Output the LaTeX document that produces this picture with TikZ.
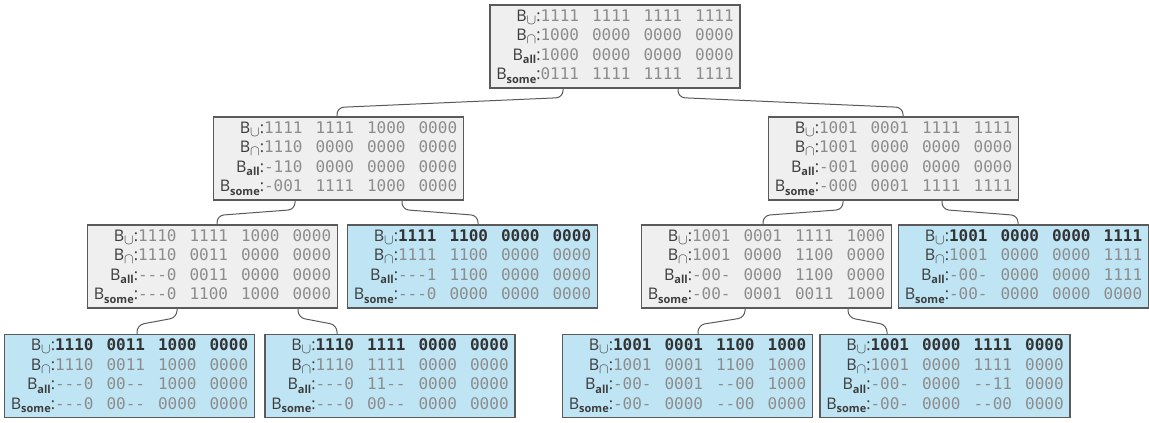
\documentclass[tikz,border=0pt]{standalone}
\usepackage{fontspec}
\setsansfont{Open Sans}
\setmonofont{DejaVu Sans Mono}
\usetikzlibrary{positioning}
\definecolor{boxline}{HTML}{5A5A5A}
\definecolor{grayfill}{HTML}{EFEFEF}
\definecolor{bluefill}{HTML}{BFE5F5}
\definecolor{bitgray}{HTML}{8C8C8C}
\definecolor{bitdark}{HTML}{333333}
\definecolor{lblgray}{HTML}{3C3C3C}

\newlength{\grpgap}\setlength{\grpgap}{13pt}
\newcommand{\bits}[4]{{\ttfamily\color{bitgray}#1\hspace{\grpgap}#2\hspace{\grpgap}#3\hspace{\grpgap}#4}}
\newcommand{\bbits}[4]{{\ttfamily\bfseries\color{bitdark}#1\hspace{\grpgap}#2\hspace{\grpgap}#3\hspace{\grpgap}#4}}
\newcommand{\lbl}[1]{{\sffamily\color{lblgray}B\raisebox{-3.5pt}{\fontsize{11}{11}\selectfont\bfseries #1}:}}
\newcommand{\lsym}[1]{{\sffamily\color{lblgray}B\raisebox{-3pt}{\fontsize{14}{14}\selectfont$#1$}:}}

\begin{document}
\begin{tikzpicture}[x=1pt,y=-1pt,
    graybox/.style={draw=boxline,fill=grayfill,line width=1.1pt,inner sep=0pt,
      minimum width=250pt,minimum height=83pt,font=\fontsize{16}{19.5}\selectfont},
    bluebox/.style={graybox,fill=bluefill},
    link/.style={draw=boxline,line width=1pt,rounded corners=7pt}]
  \useasboundingbox (0,0) rectangle (1149,423);

  % root
  \node[graybox] (root) at (615,46.5) {\begin{tabular}{@{}r@{}l@{}}
    \lsym{\cup} & \bits{1111}{1111}{1111}{1111}\\
    \lsym{\cap} & \bits{1000}{0000}{0000}{0000}\\
    \lbl{all}   & \bits{1000}{0000}{0000}{0000}\\
    \lbl{some}  & \bits{0111}{1111}{1111}{1111}
  \end{tabular}};

  % level 1
  \node[graybox] (l1a) at (338.5,158.5) {\begin{tabular}{@{}r@{}l@{}}
    \lsym{\cup} & \bits{1111}{1111}{1000}{0000}\\
    \lsym{\cap} & \bits{1110}{0000}{0000}{0000}\\
    \lbl{all}   & \bits{-110}{0000}{0000}{0000}\\
    \lbl{some}  & \bits{-001}{1111}{1000}{0000}
  \end{tabular}};
  \node[graybox] (l1b) at (893.5,158.5) {\begin{tabular}{@{}r@{}l@{}}
    \lsym{\cup} & \bits{1001}{0001}{1111}{1111}\\
    \lsym{\cap} & \bits{1001}{0000}{0000}{0000}\\
    \lbl{all}   & \bits{-001}{0000}{0000}{0000}\\
    \lbl{some}  & \bits{-000}{0001}{1111}{1111}
  \end{tabular}};

  % level 2
  \node[graybox] (l2a) at (212.5,266.5) {\begin{tabular}{@{}r@{}l@{}}
    \lsym{\cup} & \bits{1110}{1111}{1000}{0000}\\
    \lsym{\cap} & \bits{1110}{0011}{0000}{0000}\\
    \lbl{all}   & \bits{---0}{0011}{0000}{0000}\\
    \lbl{some}  & \bits{---0}{1100}{1000}{0000}
  \end{tabular}};
  \node[bluebox] (l2b) at (472.5,266.5) {\begin{tabular}{@{}r@{}l@{}}
    \lsym{\cup} & \bbits{1111}{1100}{0000}{0000}\\
    \lsym{\cap} & \bits{1111}{1100}{0000}{0000}\\
    \lbl{all}   & \bits{---1}{1100}{0000}{0000}\\
    \lbl{some}  & \bits{---0}{0000}{0000}{0000}
  \end{tabular}};
  \node[graybox] (l2c) at (766.5,266.5) {\begin{tabular}{@{}r@{}l@{}}
    \lsym{\cup} & \bits{1001}{0001}{1111}{1000}\\
    \lsym{\cap} & \bits{1001}{0000}{1100}{0000}\\
    \lbl{all}   & \bits{-00-}{0000}{1100}{0000}\\
    \lbl{some}  & \bits{-00-}{0001}{0011}{1000}
  \end{tabular}};
  \node[bluebox] (l2d) at (1023.5,266.5) {\begin{tabular}{@{}r@{}l@{}}
    \lsym{\cup} & \bbits{1001}{0000}{0000}{1111}\\
    \lsym{\cap} & \bits{1001}{0000}{0000}{1111}\\
    \lbl{all}   & \bits{-00-}{0000}{0000}{1111}\\
    \lbl{some}  & \bits{-00-}{0000}{0000}{0000}
  \end{tabular}};

  % level 3
  \node[bluebox] (l3a) at (129.5,376) {\begin{tabular}{@{}r@{}l@{}}
    \lsym{\cup} & \bbits{1110}{0011}{1000}{0000}\\
    \lsym{\cap} & \bits{1110}{0011}{1000}{0000}\\
    \lbl{all}   & \bits{---0}{00--}{1000}{0000}\\
    \lbl{some}  & \bits{---0}{00--}{0000}{0000}
  \end{tabular}};
  \node[bluebox] (l3b) at (390,376) {\begin{tabular}{@{}r@{}l@{}}
    \lsym{\cup} & \bbits{1110}{1111}{0000}{0000}\\
    \lsym{\cap} & \bits{1110}{1111}{0000}{0000}\\
    \lbl{all}   & \bits{---0}{11--}{0000}{0000}\\
    \lbl{some}  & \bits{---0}{00--}{0000}{0000}
  \end{tabular}};
  \node[bluebox] (l3c) at (687.5,376) {\begin{tabular}{@{}r@{}l@{}}
    \lsym{\cup} & \bbits{1001}{0001}{1100}{1000}\\
    \lsym{\cap} & \bits{1001}{0001}{1100}{1000}\\
    \lbl{all}   & \bits{-00-}{0001}{--00}{1000}\\
    \lbl{some}  & \bits{-00-}{0000}{--00}{0000}
  \end{tabular}};
  \node[bluebox] (l3d) at (945,376) {\begin{tabular}{@{}r@{}l@{}}
    \lsym{\cup} & \bbits{1001}{0000}{1111}{0000}\\
    \lsym{\cap} & \bits{1001}{0000}{1111}{0000}\\
    \lbl{all}   & \bits{-00-}{0000}{--11}{0000}\\
    \lbl{some}  & \bits{-00-}{0000}{--00}{0000}
  \end{tabular}};

  % connectors
  \draw[link] ([xshift=-52pt]root.south) -- ++(0,9) -- ([xshift=-1.5pt,yshift=9pt]l1a.north) -- ([xshift=-1.5pt]l1a.north);
  \draw[link] ([xshift=63pt]root.south) -- ++(0,9) -- ([xshift=9.5pt,yshift=9pt]l1b.north) -- ([xshift=9.5pt]l1b.north);
  \draw[link] ([xshift=-43.5pt]l1a.south) -- ++(0,9) -- ([xshift=4.5pt,yshift=9pt]l2a.north) -- ([xshift=4.5pt]l2a.north);
  \draw[link] ([xshift=63.5pt]l1a.south) -- ++(0,9) -- ([xshift=5.5pt,yshift=9pt]l2b.north) -- ([xshift=5.5pt]l2b.north);
  \draw[link] ([xshift=-50.5pt]l1b.south) -- ++(0,9) -- ([xshift=-3.5pt,yshift=9pt]l2c.north) -- ([xshift=-3.5pt]l2c.north);
  \draw[link] ([xshift=48.5pt]l1b.south) -- ++(0,9) -- ([xshift=-5.5pt,yshift=9pt]l2d.north) -- ([xshift=-5.5pt]l2d.north);
  \draw[link] ([xshift=-35.5pt]l2a.south) -- ++(0,9) -- ([xshift=7.5pt,yshift=9pt]l3a.north) -- ([xshift=7.5pt]l3a.north);
  \draw[link] ([xshift=85.5pt]l2a.south) -- ++(0,9) -- ([xshift=-53pt,yshift=9pt]l3b.north) -- ([xshift=-53pt]l3b.north);
  \draw[link] ([xshift=-21.5pt]l2c.south) -- ++(0,9) -- ([xshift=10.5pt,yshift=9pt]l3c.north) -- ([xshift=10.5pt]l3c.north);
  \draw[link] ([xshift=81.5pt]l2c.south) -- ++(0,9) -- ([xshift=-58pt,yshift=9pt]l3d.north) -- ([xshift=-58pt]l3d.north);
\end{tikzpicture}
\end{document}
